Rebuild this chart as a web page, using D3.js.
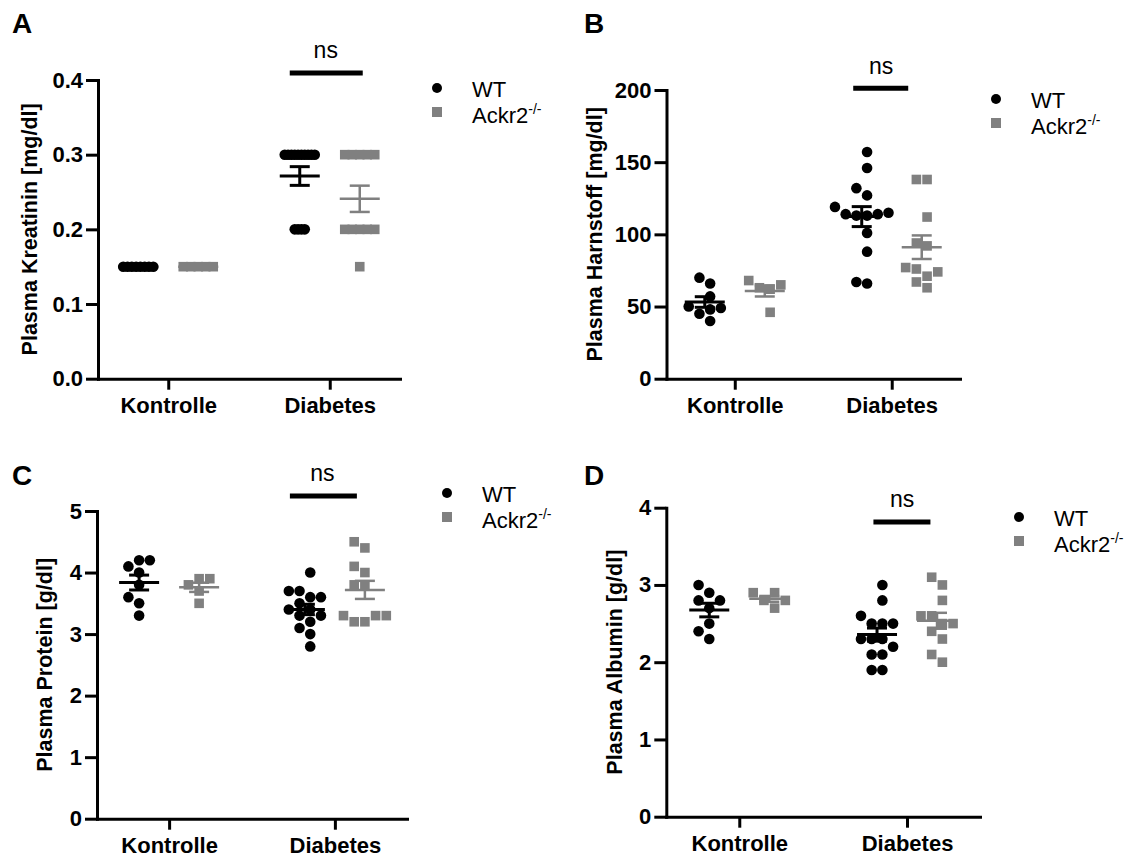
<!DOCTYPE html>
<html>
<head>
<meta charset="utf-8">
<script src="https://cdn.jsdelivr.net/npm/d3@7"></script>
<style>
  body { margin: 0; background: #fff; }
  text { font-family: "Liberation Sans", Arial, sans-serif; }
  .axis .domain, .axis .tick line { stroke: #000; stroke-width: 3px; }
</style>
</head>
<body>
<div id="chart"></div>
<script>
const categories = ["Kontrolle", "Diabetes"];
const groups = ["WT", "Ackr2"];

// A - Plasma Kreatinin
const kreaTicks = [0, 0.1, 0.2, 0.3, 0.4];
const kreaWTKontrolle = [0.15, 0.15, 0.15, 0.15, 0.15, 0.15, 0.15, 0.15];
const kreaAckrKontrolle = [0.15, 0.15, 0.15, 0.15, 0.15];
const kreaWTDiabetes = [0.3, 0.3, 0.3, 0.3, 0.3, 0.3, 0.3, 0.3, 0.3, 0.3, 0.2, 0.2, 0.2, 0.2];
const kreaAckrDiabetes = [0.3, 0.3, 0.3, 0.3, 0.3, 0.2, 0.2, 0.2, 0.2, 0.2, 0.15];

// B - Plasma Harnstoff
const harnTicks = [0, 50, 100, 150, 200];
const harnWTKontrolle = [70, 66, 57, 50, 49, 48, 45, 40];
const harnAckrKontrolle = [68, 65, 63, 62, 46];
const harnWTDiabetes = [157, 146, 132, 127, 119, 115, 114, 114, 113, 113, 101, 88, 67, 66];
const harnAckrDiabetes = [138, 138, 112, 94, 92, 77, 76, 74, 71, 67, 63];

// C - Plasma Protein
const protTicks = [0, 1, 2, 3, 4, 5];
const protWTKontrolle = [4.2, 4.2, 4.1, 4.0, 3.8, 3.6, 3.5, 3.3];
const protAckrKontrolle = [3.9, 3.9, 3.8, 3.7, 3.5];
const protWTDiabetes = [4.0, 3.7, 3.7, 3.6, 3.6, 3.5, 3.4, 3.4, 3.3, 3.3, 3.2, 3.1, 3.0, 2.8];
const protAckrDiabetes = [4.5, 4.4, 4.1, 4.0, 3.8, 3.8, 3.3, 3.3, 3.3, 3.2, 3.2];

// D - Plasma Albumin
const albTicks = [0, 1, 2, 3, 4];
const albWTKontrolle = [3.0, 2.9, 2.8, 2.8, 2.7, 2.5, 2.4, 2.3];
const albAckrKontrolle = [2.9, 2.9, 2.8, 2.8, 2.7];
const albWTDiabetes = [3.0, 2.8, 2.6, 2.5, 2.5, 2.5, 2.3, 2.3, 2.3, 2.2, 2.1, 2.1, 1.9, 1.9];
const albAckrDiabetes = [3.1, 3.0, 2.8, 2.6, 2.6, 2.5, 2.5, 2.4, 2.3, 2.1, 2.0];

const panels = [
  { letter: "A", title: "Plasma Kreatinin [mg/dl]", ticks: kreaTicks, fmt: d3.format(".1f"),
    data: [[kreaWTKontrolle, kreaAckrKontrolle], [kreaWTDiabetes, kreaAckrDiabetes]],
    x0: 98, x1: 400, yTop: 80, yBot: 378.7, letterPos: [12, 33], titleX: 37,
    ns: { dx: -4, y: 58, barY: 73, from: -40, to: 33 }, legend: [437, 88] },
  { letter: "B", title: "Plasma Harnstoff [mg/dl]", ticks: harnTicks, fmt: d3.format("d"),
    data: [[harnWTKontrolle, harnAckrKontrolle], [harnWTDiabetes, harnAckrDiabetes]],
    x0: 666.5, x1: 960, yTop: 90, yBot: 378.7, letterPos: [584, 33], titleX: 602,
    ns: { dx: -10.5, y: 74, barY: 88.3, from: -38.5, to: 16.5 }, legend: [996, 99] },
  { letter: "C", title: "Plasma Protein [g/dl]", ticks: protTicks, fmt: d3.format("d"),
    data: [[protWTKontrolle, protAckrKontrolle], [protWTDiabetes, protAckrDiabetes]],
    x0: 97, x1: 407, yTop: 511, yBot: 818.7, letterPos: [12, 485], titleX: 52,
    ns: { dx: -12.5, y: 481, barY: 496, from: -45, to: 22 }, legend: [447, 493] },
  { letter: "D", title: "Plasma Albumin [g/dl]", ticks: albTicks, fmt: d3.format("d"),
    data: [[albWTKontrolle, albAckrKontrolle], [albWTDiabetes, albAckrDiabetes]],
    x0: 666.3, x1: 980, yTop: 507.7, yBot: 816.7, letterPos: [584, 485], titleX: 622,
    ns: { dx: -4.8, y: 507, barY: 522, from: -33.6, to: 23.4 }, legend: [1019, 517] }
];

const colors = { WT: "#000", Ackr2: "#808080" };
const R = 5.3, SQ = 9.6, STEP = 10.7, SPREAD = 30, OFFSET = 30;

const svg = d3.select("#chart").append("svg")
  .attr("width", 1132)
  .attr("height", 859)
  .style("background", "#fff");

// simple beeswarm: points go as close to the centre as they can
function swarm(vals, y) {
  const counts = d3.rollup(vals, v => v.length, d => d);
  const maxSame = d3.max(counts.values());
  const s = maxSame > 1 ? Math.min(STEP, SPREAD / (maxSame - 1)) : STEP;
  const pts = vals.map(v => ({ v: v, y: y(v) })).sort((a, b) => b.y - a.y);
  const placed = [];
  pts.forEach(p => {
    for (let k = 0; k < 60; k++) {
      const cands = k === 0 ? [0] : [-k * s / 2, k * s / 2];
      const ok = cands.find(c => placed.every(q => Math.hypot(q.dx - c, q.y - p.y) >= s - 0.01));
      if (ok !== undefined) { p.dx = ok; break; }
    }
    placed.push(p);
  });
  const mid = (d3.min(placed, d => d.dx) + d3.max(placed, d => d.dx)) / 2;
  placed.forEach(p => p.dx -= mid);
  return placed;
}

panels.forEach(P => {
  const g = svg.append("g");

  const x = d3.scalePoint()
    .domain(categories)
    .range([P.x0, P.x1])
    .padding(0.435);

  const y = d3.scaleLinear()
    .domain([d3.min(P.ticks), d3.max(P.ticks)])
    .range([P.yBot, P.yTop]);

  // points
  P.data.forEach((pair, ci) => {
    pair.forEach((vals, gi) => {
      const cx = x(categories[ci]) + (gi === 0 ? -OFFSET : OFFSET);
      const pts = swarm(vals, y);
      const col = colors[groups[gi]];
      if (gi === 0) {
        g.selectAll(null).data(pts).enter().append("circle")
          .attr("cx", d => cx + d.dx)
          .attr("cy", d => d.y)
          .attr("r", R)
          .attr("fill", col);
      } else {
        g.selectAll(null).data(pts).enter().append("rect")
          .attr("x", d => cx + d.dx - SQ / 2)
          .attr("y", d => d.y - SQ / 2)
          .attr("width", SQ)
          .attr("height", SQ)
          .attr("fill", col);
      }
      // mean +- SEM
      const m = d3.mean(vals);
      const sem = d3.deviation(vals) / Math.sqrt(vals.length);
      const sw = gi === 0 ? 3 : 2.5;
      const eb = g.append("g").attr("stroke", col).attr("stroke-width", sw);
      eb.append("line").attr("x1", cx - 20).attr("x2", cx + 20).attr("y1", y(m)).attr("y2", y(m));
      eb.append("line").attr("x1", cx).attr("x2", cx).attr("y1", y(m - sem)).attr("y2", y(m + sem));
      [m - sem, m + sem].forEach(v => {
        eb.append("line").attr("x1", cx - 10).attr("x2", cx + 10).attr("y1", y(v)).attr("y2", y(v));
      });
    });
  });

  // axes
  const yAxis = d3.axisLeft(y)
    .tickValues(P.ticks)
    .tickFormat(P.fmt)
    .tickSize(12)
    .tickSizeOuter(0)
    .tickPadding(3);

  const xAxis = d3.axisBottom(x)
    .tickSize(11)
    .tickSizeOuter(0)
    .tickPadding(8);

  const ya = g.append("g")
    .attr("class", "axis")
    .attr("transform", "translate(" + P.x0 + ",0)")
    .call(yAxis);

  const xa = g.append("g")
    .attr("class", "axis")
    .attr("transform", "translate(0," + P.yBot + ")")
    .call(xAxis);

  [ya, xa].forEach(a => {
    a.select(".domain").attr("stroke-linecap", "square");
    a.selectAll("text")
      .attr("fill", "#000")
      .style("font-size", "22px")
      .style("font-weight", "bold")
      .style("font-family", "'Liberation Sans', Arial, sans-serif");
  });

  // axis title
  g.append("text")
    .attr("transform", "translate(" + P.titleX + "," + (P.yTop + P.yBot) / 2 + ") rotate(-90)")
    .attr("text-anchor", "middle")
    .style("font-size", "21.5px")
    .style("font-weight", "bold")
    .text(P.title);

  // panel letter
  g.append("text")
    .attr("x", P.letterPos[0])
    .attr("y", P.letterPos[1])
    .style("font-size", "28px")
    .style("font-weight", "bold")
    .text(P.letter);

  // ns annotation
  const xd = x("Diabetes");
  g.append("line")
    .attr("x1", xd + P.ns.from)
    .attr("x2", xd + P.ns.to)
    .attr("y1", P.ns.barY)
    .attr("y2", P.ns.barY)
    .attr("stroke", "#000")
    .attr("stroke-width", 5);
  g.append("text")
    .attr("x", xd + P.ns.dx)
    .attr("y", P.ns.y)
    .attr("text-anchor", "middle")
    .style("font-size", "23px")
    .text("ns");

  // legend
  const [lx, ly] = P.legend;
  const lg = g.append("g");
  lg.append("circle").attr("cx", lx).attr("cy", ly).attr("r", 5).attr("fill", colors.WT);
  lg.append("rect").attr("x", lx - 5).attr("y", ly + 19).attr("width", 10).attr("height", 10).attr("fill", colors.Ackr2);
  lg.append("text").attr("x", lx + 35).attr("y", ly + 8.5).style("font-size", "22px").text("WT");
  const t = lg.append("text").attr("x", lx + 35).attr("y", ly + 35).style("font-size", "22px").text("Ackr2");
  t.append("tspan").attr("dy", -9).style("font-size", "14px").text("-/-");
});
</script>
</body>
</html>
